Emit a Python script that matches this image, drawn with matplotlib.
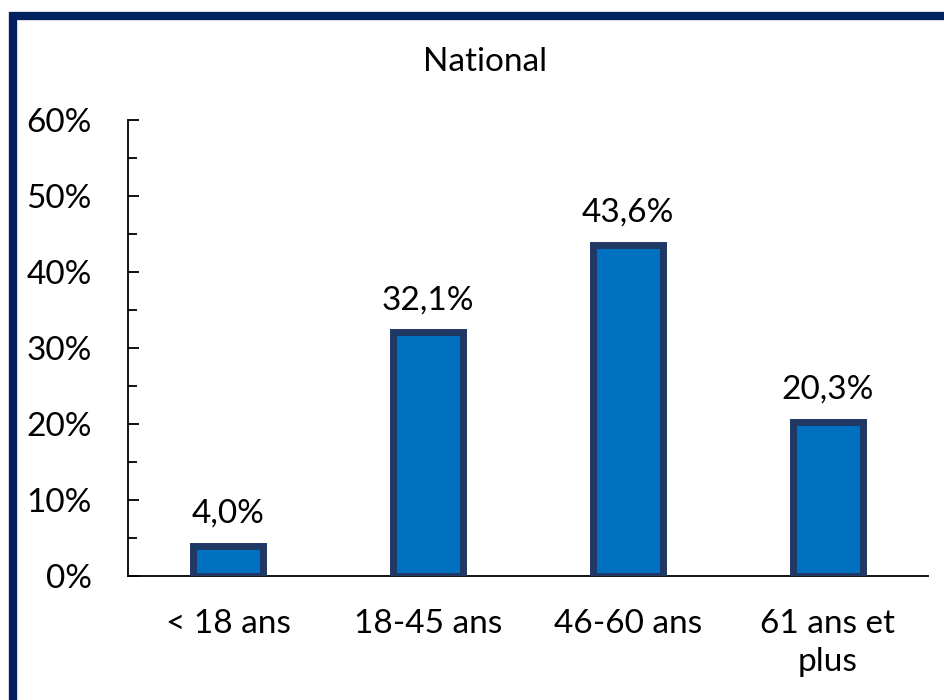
import matplotlib
matplotlib.use("Agg")
import matplotlib.pyplot as plt
from matplotlib.patches import Rectangle
from matplotlib.ticker import MultipleLocator, FuncFormatter

categories = ["< 18 ans", "18-45 ans", "46-60 ans", "61 ans et\nplus"]
values = [4.0, 32.1, 43.6, 20.3]
labels = ["4,0%", "32,1%", "43,6%", "20,3%"]
title = "National"

plt.rcParams["font.family"] = ["Lato", "DejaVu Sans"]
FS = 24

W, H = 945, 700
fig = plt.figure(figsize=(W / 100, H / 100), dpi=100)

# dark navy frame, cut off at right and bottom like the source screenshot
fig.patches.append(Rectangle((13 / W, -0.1), 1.2, (H - 16) / H + 0.1,
                             transform=fig.transFigure, fill=False,
                             edgecolor="#002060", linewidth=6, zorder=0))

ax = fig.add_axes([128 / W, (H - 576) / H, 800 / W, 456 / H])

x = range(len(categories))
ax.bar(x, values, width=0.35, color="#0070C0", edgecolor="#1F3864",
       linewidth=5, zorder=3)

for xi, v, lab in zip(x, values, labels):
    ax.annotate(lab, (xi, v), xytext=(0, 16.5), textcoords="offset points",
                ha="center", va="baseline", fontsize=FS)

ax.set_xlim(-0.5, len(categories) - 0.5)
ax.set_ylim(0, 60)
ax.yaxis.set_major_locator(MultipleLocator(10))
ax.yaxis.set_minor_locator(MultipleLocator(5))
ax.yaxis.set_major_formatter(FuncFormatter(lambda v, p: f"{v:.0f}%"))

ax.set_xticks(list(x))
ax.set_xticklabels(categories, fontsize=FS, linespacing=1.3)
ax.tick_params(axis="x", length=0, pad=24)
ax.tick_params(axis="y", which="major", direction="in", length=8,
               width=1.3, labelsize=FS, pad=26)
ax.tick_params(axis="y", which="minor", direction="in", length=6.5, width=1.3)

for side in ("top", "right"):
    ax.spines[side].set_visible(False)
ax.spines["left"].set_linewidth(1.3)
ax.spines["bottom"].set_linewidth(1.3)

fig.text(485 / W, 1 - 62 / H, title, ha="center", va="center", fontsize=FS)

fig.savefig("out.png", dpi=100)
